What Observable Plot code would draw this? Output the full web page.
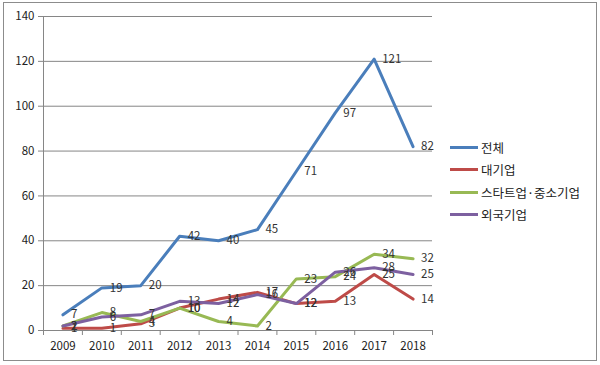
<!DOCTYPE html>
<html><head><meta charset="utf-8">
<script src="https://cdn.jsdelivr.net/npm/d3@7"></script>
<script src="https://cdn.jsdelivr.net/npm/@observablehq/plot@0.6"></script>
<style>
body{margin:0;background:#fff;}
#wrap{position:relative;width:600px;height:365px;font-family:"Noto Sans CJK KR","Noto Sans",sans-serif;}
#wrap svg{position:absolute;left:0;top:0;}
#frame{position:absolute;left:3px;top:2px;width:592px;height:357px;border:1px solid #8c8c8c;pointer-events:none}
#legend{position:absolute;left:450px;top:136px;font-size:12.5px;color:#222;}
.item{display:flex;align-items:center;height:22.5px;}
.sw{width:28px;height:3px;margin-right:3px}
</style></head><body><div id="wrap"><div id="frame"></div><div id="legend"></div></div>
<script>
const years = [2009,2010,2011,2012,2013,2014,2015,2016,2017,2018];
const seriesNames = ["전체","대기업","스타트업·중소기업","외국기업"];
const total   = [7,19,20,42,40,45,71,97,121,82];
const large   = [1,1,3,10,14,17,12,13,25,14];
const startup = [2,8,4,10,4,2,23,24,34,32];
const foreign = [2,6,7,13,12,16,12,26,28,25];
const colors = ["#4a7ebb","#be4b48","#98b954","#7d60a0"];
const yTicks = [0,20,40,60,80,100,120,140];

const seriesValues = [total, large, startup, foreign];
const rows = [];
seriesNames.forEach((s, i) => years.forEach((y, j) => rows.push({year: y, series: s, value: seriesValues[i][j]})));
const boundaries = years.map(y => y - 0.5).concat([years[years.length - 1] + 0.5]);
const x0 = boundaries[0];

const chart = Plot.plot({
  width: 600, height: 365,
  marginLeft: 43, marginRight: 168, marginTop: 16, marginBottom: 35,
  style: {fontFamily: '"Noto Sans CJK KR","Noto Sans",sans-serif', fontSize: "11.5px", color: "#222", background: "transparent"},
  x: {domain: [boundaries[0], boundaries[boundaries.length - 1]], axis: null},
  y: {domain: [yTicks[0], yTicks[yTicks.length - 1]], axis: null},
  color: {domain: seriesNames, range: colors},
  marks: [
    Plot.ruleY(yTicks, {stroke: "#868686", strokeWidth: 1}),
    Plot.ruleX([x0], {stroke: "#868686"}),
    Plot.ruleY(yTicks, {x1: x0, x2: x0, insetLeft: -5, stroke: "#868686"}),
    Plot.text(yTicks, {x: x0, y: d => d, text: d => String(d), textAnchor: "end", dx: -9, fill: "#222"}),
    Plot.ruleX(boundaries, {y1: 0, y2: 0, insetBottom: -5, stroke: "#868686"}),
    Plot.text(years, {x: d => d, y: 0, text: d => String(d), dy: 16, fill: "#222"}),
    Plot.line(rows, {x: "year", y: "value", z: "series", stroke: "series", strokeWidth: 3, strokeLinejoin: "round"}),
    Plot.text(rows, {x: "year", y: "value", text: d => String(d.value), textAnchor: "start", dx: 8, fill: "#333"})
  ]
});
document.getElementById("wrap").appendChild(chart);

const legend = document.getElementById("legend");
seriesNames.forEach((s, i) => {
  const item = document.createElement("div");
  item.className = "item";
  const sw = document.createElement("div");
  sw.className = "sw";
  sw.style.background = colors[i];
  const t = document.createElement("span");
  t.textContent = s;
  item.appendChild(sw); item.appendChild(t);
  legend.appendChild(item);
});
</script></body></html>
